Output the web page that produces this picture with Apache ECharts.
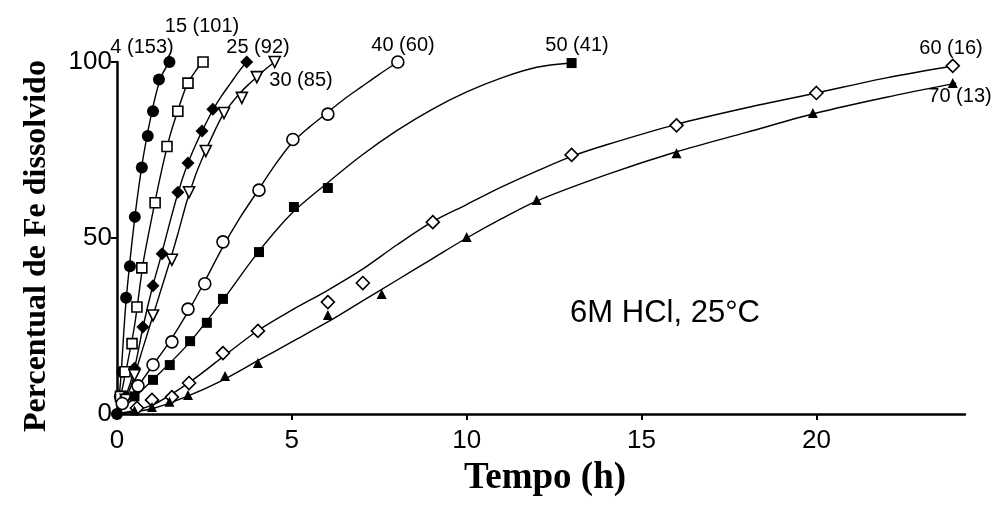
<!DOCTYPE html>
<html>
<head>
<meta charset="utf-8">
<script src="https://cdn.jsdelivr.net/npm/echarts@6/dist/echarts.min.js"></script>
<style>
  html, body { margin: 0; padding: 0; background: #ffffff; }
  #charts { width: 996px; height: 505px; }
</style>
</head>
<body>
<div id="charts"></div>
<script>
let run4 = [[0, 0], [0.08, 5], [0.15, 12], [0.26, 33], [0.37, 42], [0.51, 56], [0.71, 70], [0.88, 79], [1.03, 86], [1.2, 95], [1.5, 100]];
let run15 = [[0.1, 5], [0.23, 12], [0.43, 20], [0.57, 30.4], [0.71, 41.5], [1.09, 60], [1.43, 76], [1.74, 86], [2.03, 94], [2.46, 100]];
let run25 = [[0.25, 5], [0.5, 13], [0.74, 24.7], [1.03, 36.4], [1.29, 45.5], [1.74, 63], [2.03, 71.3], [2.43, 80.4], [2.74, 86.6], [3.71, 100]];
let run30 = [[0.25, 4], [0.5, 11], [1.03, 28], [1.57, 43.8], [2.06, 63], [2.54, 74.7], [3.06, 85.5], [3.57, 89.8], [4.0, 95.7], [4.51, 100]];
let run40 = [[0.15, 3], [0.6, 8], [1.03, 14], [1.57, 20.5], [2.03, 29.8], [2.51, 37], [3.03, 48.9], [4.06, 63.6], [5.03, 78], [6.03, 85.2], [8.03, 100]];
let run50 = [[0.5, 5], [1.03, 9.7], [1.51, 13.9], [2.09, 20.7], [2.57, 25.9], [3.03, 32.7], [4.06, 46], [5.06, 58.8], [6.03, 64.2], [13.0, 99.7]];
let run60 = [[0.57, 1.7], [1.0, 4], [1.57, 4.8], [2.06, 8.8], [3.03, 17.3], [4.03, 23.6], [6.03, 31.8], [7.03, 37.2], [9.03, 54.5], [13.0, 73.6], [16.0, 82], [20.0, 91.2], [23.9, 98.9]];
let run70 = [[0.5, 1], [1.0, 2], [1.5, 3.5], [2.03, 5.4], [3.09, 10.8], [4.03, 14.5], [6.03, 28.1], [7.57, 34.1], [10.0, 50.3], [12.0, 60.8], [16.0, 74.1], [19.9, 85.5], [23.9, 94]];

/* fitted curves */
let fit4 = [[0, 0], [0.1, 9], [0.25, 31], [0.5, 55], [0.75, 73], [1.0, 86], [1.25, 95.5], [1.5, 100]];
let fit15 = [[0, 0], [0.25, 12], [0.5, 25], [0.75, 43], [1.0, 56], [1.25, 68], [1.5, 78.5], [1.75, 86.5], [2.0, 93.5], [2.25, 97.5], [2.46, 100]];
let fit25 = [[0, 0], [0.25, 5], [0.5, 13], [0.75, 25], [1.0, 35.5], [1.25, 44.5], [1.5, 54], [1.75, 63], [2.0, 70.5], [2.25, 76.5], [2.5, 81.7], [2.75, 86.5], [3.0, 90.5], [3.25, 94], [3.5, 97.5], [3.71, 100]];
let fit30 = [[0, 0], [0.25, 4], [0.5, 11], [0.75, 19], [1.0, 27], [1.25, 35], [1.5, 43], [1.75, 51.5], [2.0, 60.5], [2.25, 68], [2.5, 74], [2.75, 79.5], [3.0, 84.5], [3.25, 88], [3.5, 91], [3.75, 93.5], [4.0, 95.7], [4.25, 98], [4.51, 100]];
let fit40 = [[0, 0], [0.5, 6.5], [1, 13.5], [1.5, 20.5], [2, 28.5], [2.5, 37.5], [3, 47], [3.5, 55.5], [4, 63], [4.5, 70.5], [5, 77], [5.5, 81.5], [6, 85.5], [6.5, 89.5], [7, 93], [7.5, 96.5], [8.03, 100]];
let fit50 = [[0, 0], [1, 9.5], [2, 19.5], [3, 32], [4, 45.5], [5, 57], [6, 65.5], [7, 73.5], [8, 80.5], [9, 86.5], [10, 91.5], [11, 95.5], [12, 98.5], [13, 99.7]];
let fit60 = [[0, 0], [1, 2.5], [2, 8.5], [3, 16], [4, 23.5], [5, 29.5], [6, 35], [7, 41], [8, 48], [9, 54.5], [10, 59.5], [11, 64.5], [12, 69], [13, 73.2], [14, 76.5], [16, 82.3], [18, 87], [20, 91.2], [22, 95.5], [24, 99]];
let fit70 = [[0, 0], [1, 1.5], [2, 5], [3, 9.5], [4, 15], [5, 20.5], [6, 26], [7, 32], [8, 38], [9, 44], [10, 50], [11, 55.5], [12, 60.5], [14, 68], [16, 74.5], [18, 80], [20, 85.5], [22, 90], [24, 94]];

let runLabels = ["4 (153)", "15 (101)", "25 (92)", "30 (85)", "40 (60)", "50 (41)", "60 (16)", "70 (13)"];
let xTicks = [0, 5, 10, 15, 20];
let yTicks = [0, 50, 100];

let runs = [run4, run15, run25, run30, run40, run50, run60, run70];
let fits = [fit4, fit15, fit25, fit30, fit40, fit50, fit60, fit70];
let symbols = ["circle", "rect", "diamond", "triangle", "circle", "rect", "diamond", "triangle"];
let filled = [true, false, true, false, false, true, false, true];
let sizes = [12, 10, 13, 11, 12, 10, 13, 10];
let rotations = [0, 0, 0, 180, 0, 0, 0, 0];
// label anchors in pixels (centre)
let labelPos = [[142, 47], [202, 26], [258, 47], [301, 80], [403, 45], [577, 45], [951, 48], [960, 96]];

function buildSeries() {
  let out = [];
  fits.forEach(function (data) {
    out.push({
      type: "line",
      data: data,
      smooth: 0.3,
      clip: false,
      symbol: "none",
      lineStyle: { color: "#000", width: 1.4 },
      emphasis: { disabled: true },
      silent: true,
      z: 2
    });
  });
  runs.forEach(function (data, i) {
    out.push({
      name: runLabels[i],
      type: "scatter",
      data: data,
      clip: false,
      symbol: symbols[i],
      symbolSize: sizes[i],
      symbolRotate: rotations[i],
      itemStyle: {
        color: filled[i] ? "#000" : "#fff",
        borderColor: "#000",
        borderWidth: filled[i] ? 0 : 1.6,
        opacity: 1
      },
      emphasis: { disabled: true },
      z: 3 + i
    });
  });
  return out;
}

function buildLabels() {
  let texts = runLabels.map(function (t, i) {
    return {
      type: "text",
      x: labelPos[i][0],
      y: labelPos[i][1],
      style: {
        text: t,
        fill: "#000",
        font: "20px 'Liberation Sans', Arial, sans-serif",
        align: "center",
        verticalAlign: "middle"
      }
    };
  });
  texts.push({
    type: "text",
    x: 665,
    y: 313,
    style: {
      text: "6M HCl, 25°C",
      fill: "#000",
      font: "31px 'Liberation Sans', Arial, sans-serif",
      align: "center",
      verticalAlign: "middle"
    }
  });
  return texts;
}

let myChart = echarts.init(document.getElementById("charts"));
let option = {
  backgroundColor: "#fff",
  animation: false,
  grid: { left: 117, right: 31, top: 62, bottom: 91, containLabel: false },
  xAxis: {
    type: "value",
    min: 0,
    max: 24.25,
    interval: 5,
    name: "Tempo (h)",
    nameLocation: "middle",
    nameGap: 46,
    nameTextStyle: { fontFamily: "'Liberation Serif', 'Times New Roman', serif", fontWeight: "bold", fontSize: 37, color: "#000", padding: [0, 0, 0, 8] },
    axisLine: { lineStyle: { color: "#000", width: 2.5 } },
    axisTick: { customValues: xTicks, length: 6, lineStyle: { color: "#000", width: 2 } },
    axisLabel: { customValues: xTicks, margin: 14, fontFamily: "'Liberation Sans', Arial, sans-serif", fontSize: 26, color: "#000" },
    splitLine: { show: false }
  },
  yAxis: {
    type: "value",
    min: 0,
    max: 100,
    interval: 50,
    name: "Percentual de Fe dissolvido",
    nameLocation: "middle",
    nameGap: 64,
    nameRotate: 90,
    nameTextStyle: { fontFamily: "'Liberation Serif', 'Times New Roman', serif", fontWeight: "bold", fontSize: 32, color: "#000", padding: [0, 16, 0, 0] },
    axisLine: { show: true, lineStyle: { color: "#000", width: 2.5 } },
    axisTick: { show: true, customValues: yTicks, length: 6, lineStyle: { color: "#000", width: 2 } },
    axisLabel: { customValues: yTicks, margin: 5, fontFamily: "'Liberation Sans', Arial, sans-serif", fontSize: 26, color: "#000" },
    splitLine: { show: false }
  },
  series: buildSeries(),
  graphic: buildLabels()
};
myChart.setOption(option);
</script>
</body>
</html>
